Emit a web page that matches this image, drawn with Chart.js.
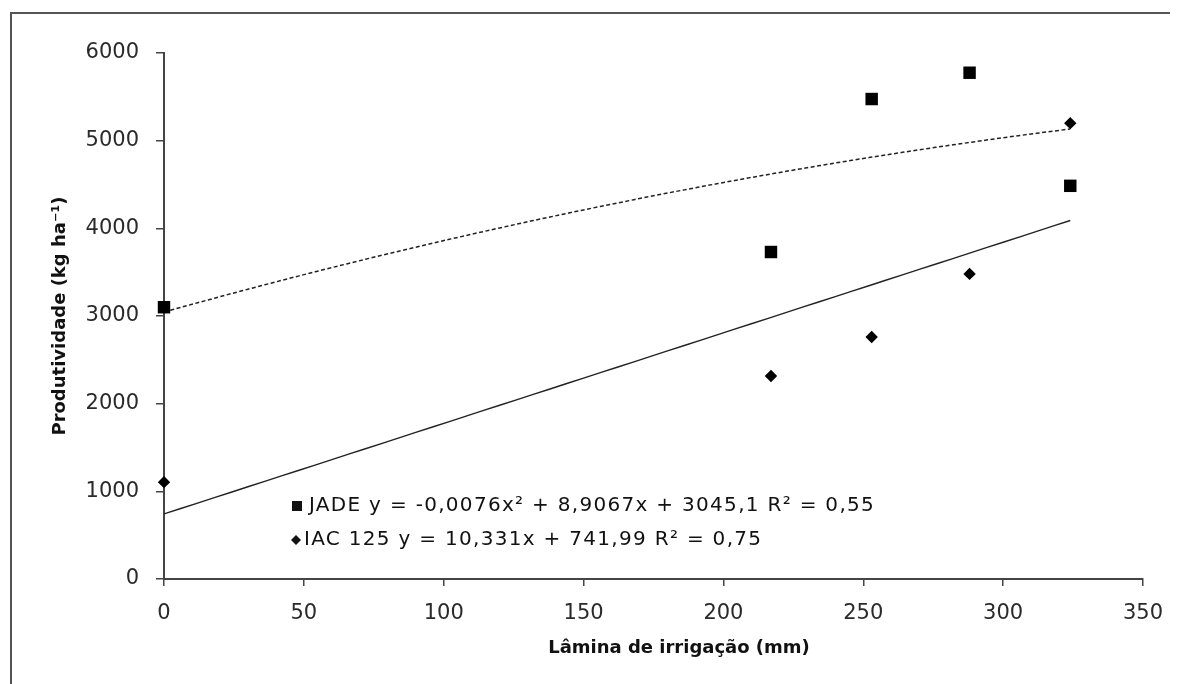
<!DOCTYPE html>
<html>
<head>
<meta charset="utf-8">
<script src="https://cdn.jsdelivr.net/npm/chart.js@4.4.1/dist/chart.umd.min.js"></script>
<style>
  html, body { margin: 0; padding: 0; background: #fff; overflow: hidden; }
  canvas { display: block; }
</style>
</head>
<body>
<canvas id="chart" width="1182" height="684"></canvas>
<script>
// irrigation depth (mm)
const lamina = [0, 217, 253, 288, 324];
// yield (kg ha-1)
const jade = [3100, 3730, 5475, 5775, 4485];
const iac = [1105, 2315, 2760, 3480, 5200];
// trend line coefficients shown on the chart
const jadeCoef = [-0.0076, 8.9067, 3045.1];   // a x² + b x + c
const iacCoef = [10.331, 741.99];             // b x + c
const legendLabels = [
  "JADE y = -0,0076x² + 8,9067x + 3045,1 R² = 0,55",
  "IAC 125 y = 10,331x + 741,99 R² = 0,75"
];
const xTitle = "Lâmina de irrigação (mm)";
const yTitle = "Produtividade (kg ha⁻¹)";

const FONT = '"DejaVu Sans", "Liberation Sans", Arial, sans-serif';

// trend lines evaluated from the printed equations
const trendX = [];
for (let x = 0; x <= lamina[lamina.length - 1]; x += 6) trendX.push(x);
if (trendX[trendX.length - 1] !== lamina[lamina.length - 1]) trendX.push(lamina[lamina.length - 1]);
const jadeTrend = trendX.map(x => ({ x: x, y: jadeCoef[0] * x * x + jadeCoef[1] * x + jadeCoef[2] }));
const iacTrend = trendX.map(x => ({ x: x, y: iacCoef[0] * x + iacCoef[1] }));

// outer frame: only left and top edges are visible in the original crop
const framePlugin = {
  id: "frame",
  beforeDraw(chart) {
    const ctx = chart.ctx;
    ctx.save();
    ctx.fillStyle = "#fff";
    ctx.fillRect(0, 0, chart.width, chart.height);
    ctx.strokeStyle = "#555";
    ctx.lineWidth = 2;
    ctx.beginPath();
    ctx.moveTo(11, chart.height);
    ctx.lineTo(11, 13);
    ctx.lineTo(chart.width - 12, 13);
    ctx.stroke();
    ctx.restore();
  }
};

// equation legend inside the plot + x axis title (sits off-centre in the original)
const legendPlugin = {
  id: "eqLegend",
  afterDraw(chart) {
    const ctx = chart.ctx;
    ctx.save();
    ctx.fillStyle = "#111";
    ctx.textBaseline = "middle";
    ctx.textAlign = "left";
    ctx.font = "20px " + FONT;
    ctx.letterSpacing = "1.3px";
    ctx.fillRect(292, 501, 10, 10);
    ctx.fillText(legendLabels[0], 309, 506);
    ctx.beginPath();
    ctx.moveTo(296, 535);
    ctx.lineTo(301, 540);
    ctx.lineTo(296, 545);
    ctx.lineTo(291, 540);
    ctx.closePath();
    ctx.fill();
    ctx.fillText(legendLabels[1], 304, 540);

    ctx.letterSpacing = "0px";
    ctx.font = "bold 18px " + FONT;
    ctx.textAlign = "center";
    ctx.fillText(xTitle, 679, 648);
    ctx.restore();
  }
};

const ctx = document.getElementById("chart").getContext("2d");
new Chart(ctx, {
  type: "scatter",
  data: {
    datasets: [
      {
        label: "JADE",
        data: lamina.map((x, i) => ({ x: x, y: jade[i] })),
        pointStyle: "rect",
        pointRadius: 8.8,
        pointHoverRadius: 8.8,
        backgroundColor: "#000",
        borderColor: "#000",
        borderWidth: 0,
        clip: false,
        order: 0
      },
      {
        label: "IAC 125",
        data: lamina.map((x, i) => ({ x: x, y: iac[i] })),
        pointStyle: "rectRot",
        pointRadius: 6.2,
        pointHoverRadius: 6.2,
        backgroundColor: "#000",
        borderColor: "#000",
        borderWidth: 0,
        clip: false,
        order: 0
      },
      {
        type: "line",
        label: "JADE trend",
        data: jadeTrend,
        borderColor: "#222",
        borderWidth: 1.5,
        borderDash: [4, 2.5],
        pointRadius: 0,
        fill: false,
        tension: 0,
        order: 1
      },
      {
        type: "line",
        label: "IAC trend",
        data: iacTrend,
        borderColor: "#222",
        borderWidth: 1.4,
        pointRadius: 0,
        fill: false,
        tension: 0,
        order: 1
      }
    ]
  },
  options: {
    responsive: false,
    animation: false,
    layout: { padding: { top: 53, right: 39, left: 0, bottom: 0 } },
    plugins: {
      legend: { display: false },
      tooltip: { enabled: false }
    },
    scales: {
      x: {
        type: "linear",
        min: 0,
        max: 350,
        afterFit: s => { s.height = 105; },
        ticks: {
          stepSize: 50,
          color: "#2a2a2a",
          padding: 15,
          font: { family: FONT, size: 21 }
        },
        grid: {
          drawOnChartArea: false,
          drawTicks: true,
          tickLength: 7,
          color: "#444",
          lineWidth: 1.5
        },
        border: { display: true, color: "#444", width: 2 },
        title: { display: false }
      },
      y: {
        min: 0,
        max: 6000,
        afterFit: s => { s.width = 164; },
        ticks: {
          stepSize: 1000,
          color: "#2a2a2a",
          padding: 17,
          font: { family: FONT, size: 21 },
          callback: v => String(v)
        },
        grid: {
          drawOnChartArea: false,
          drawTicks: true,
          tickLength: 8,
          color: "#444",
          lineWidth: 1.5
        },
        border: { display: true, color: "#444", width: 2 },
        title: {
          display: true,
          text: yTitle,
          color: "#111",
          font: { family: FONT, size: 18, weight: "bold" },
          padding: { top: 50, bottom: 0 }
        }
      }
    }
  },
  plugins: [framePlugin, legendPlugin]
});
</script>
</body>
</html>
